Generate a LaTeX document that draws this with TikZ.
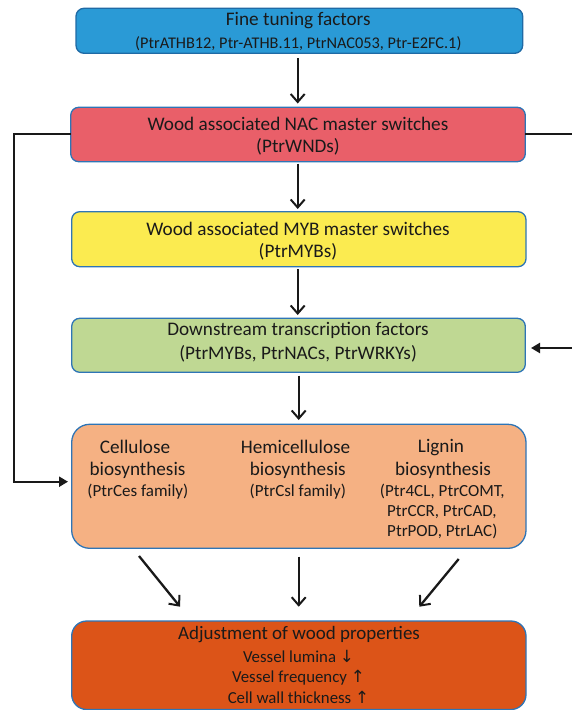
\documentclass[tikz,border=0pt]{standalone}
\usepackage{fontspec}
\setmainfont{Carlito}
\newfontfamily\symfont{DejaVu Sans}
\usetikzlibrary{arrows.meta}
\definecolor{cblue}{HTML}{2A9AD6}
\definecolor{cred}{HTML}{E95F69}
\definecolor{cyellow}{HTML}{FBEB50}
\definecolor{cgreen}{HTML}{BFD893}
\definecolor{cpeach}{HTML}{F5B183}
\definecolor{corange}{HTML}{DC5418}
\definecolor{cborder}{HTML}{2E75B6}
\definecolor{cborderdark}{HTML}{1F6AA5}
\definecolor{ctext}{HTML}{1A1A1A}
\tikzset{
  box/.style={draw=cborder, line width=1.3pt, rounded corners=8pt, inner sep=0pt, outer sep=0pt, rectangle},
  ttl/.style={text=ctext, font=\fontsize{19.2}{21}\selectfont, inner sep=0pt},
  subone/.style={text=ctext, font=\fontsize{16.3}{18}\selectfont, inner sep=0pt},
  subb/.style={text=ctext, font=\fontsize{17}{19}\selectfont, inner sep=0pt},
  ttlc/.style={text=ctext, font=\fontsize{19}{21}\selectfont, inner sep=0pt},
  subc/.style={text=ctext, font=\fontsize{16.8}{18}\selectfont, inner sep=0pt},
  arr/.style={line width=2.3pt, color=black!90, -{Straight Barb[length=8pt,width=14pt,line width=2pt]}},
  farr/.style={line width=2.4pt, color=black!90, -{Triangle[length=9pt,width=10pt]}},
  conn/.style={line width=2.4pt, color=black!90}
}
\begin{document}
\begin{tikzpicture}[x=1pt,y=-1pt]
\useasboundingbox (0,0) rectangle (572,710);
% boxes
\node[box, fill=cblue, draw=cborderdark, minimum width=446.7pt, minimum height=45pt] (b1) at (299.35,30.8) {};
\node[box, fill=cred, minimum width=454.6pt, minimum height=54.4pt] (b2) at (298,134.5) {};
\node[box, fill=cyellow, minimum width=454.3pt, minimum height=55pt] (b3) at (298.85,239.2) {};
\node[box, fill=cgreen, minimum width=453.6pt, minimum height=54pt] (b4) at (298.5,345.3) {};
\node[box, fill=cpeach, rounded corners=18pt, minimum width=454.3pt, minimum height=124pt] (b5) at (298.85,486.3) {};
\node[box, fill=corange, rounded corners=15pt, minimum width=454.3pt, minimum height=88.5pt] (b6) at (298.85,665.25) {};
% texts
\node[ttl] (t1a) at (298.3,20.7) {Fine tuning factors};
\node[subone] (t1b) at (298.3,43.3) {(PtrATHB12, Ptr-ATHB.11, PtrNAC053, Ptr-E2FC.1)};
\node[ttl] (t2a) at (298,124) {Wood associated NAC master switches};
\node[ttl] (t2b) at (298,146.7) {(PtrWNDs)};
\node[ttl] (t3a) at (298,229) {Wood associated MYB master switches};
\node[ttl] (t3b) at (298,251.7) {(PtrMYBs)};
\node[ttl] (t4a) at (298,330.5) {Downstream transcription factors};
\node[ttl] (t4b) at (298,354) {(PtrMYBs, PtrNACs, PtrWRKYs)};
\node[ttl] (c1a) at (135,447.3) {Cellulose};
\node[ttl] (c1b) at (137.5,470) {biosynthesis};
\node[subb] (c1c) at (137.8,491.7) {(PtrCes family)};
\node[ttl] (c2a) at (295.5,447.3) {Hemicellulose};
\node[ttl] (c2b) at (297.8,470) {biosynthesis};
\node[subb] (c2c) at (297.8,491.7) {(PtrCsl family)};
\node[ttl] (c3a) at (441,447.3) {Lignin};
\node[ttl] (c3b) at (443,470) {biosynthesis};
\node[subb] (c3c) at (442.3,491.7) {(Ptr4CL, PtrCOMT,};
\node[subb] (c3d) at (441.8,512.3) {PtrCCR, PtrCAD,};
\node[subb] (c3e) at (442.3,531.7) {PtrPOD, PtrLAC)};
\node[ttlc] (t6a) at (299,634.3) {Adjustment of wood properties};
\node[subc] (t6b) at (298.5,656.7) {Vessel lumina {\symfont↓}};
\node[subc] (t6c) at (298.5,677.7) {Vessel frequency {\symfont↑}};
\node[subc] (t6d) at (298.5,697.3) {Cell wall thickness {\symfont↑}};
% vertical arrows between boxes
\coordinate (xa) at (297.7,0);
\coordinate (xb) at (298.7,0);
\draw[arr, shorten <=4.7pt, shorten >=3.8pt] (b1.south -| xa) -- (b2.north -| xa);
\draw[arr, shorten <=1.8pt, shorten >=2.7pt] (b2.south -| xa) -- (b3.north -| xa);
\draw[arr, shorten <=2.3pt, shorten >=3.3pt] (b3.south -| xa) -- (b4.north -| xa);
\draw[arr, shorten <=3.4pt, shorten >=4.3pt] (b4.south -| xb) -- (b5.north -| xb);
% feedback lines
\coordinate (lc1) at (14,134);
\coordinate (lc2) at (14,481.7);
\draw[conn] (b2.west |- lc1) -- (lc1) -- (lc2);
\draw[farr, shorten >=3.7pt] ([xshift=-1.2pt]lc2) -- (b5.west |- lc2);
\coordinate (rc1) at (572,134);
\coordinate (rc2) at (572,348);
\draw[conn] (b2.east |- rc1) -- (rc1);
\draw[farr] (rc2) -- ([xshift=5.7pt]b4.east |- rc2);
% arrows into the last box
\coordinate (a1s) at (139,556);
\coordinate (a1e) at (180,606.7);
\coordinate (a2s) at (298.7,556.7);
\coordinate (a2e) at (298.7,606.7);
\coordinate (a3s) at (458.7,559);
\coordinate (a3e) at (419.3,606.7);
\draw[arr] (a1s) -- (a1e);
\draw[arr] (a2s) -- (a2e);
\draw[arr] (a3s) -- (a3e);
\end{tikzpicture}
\end{document}
